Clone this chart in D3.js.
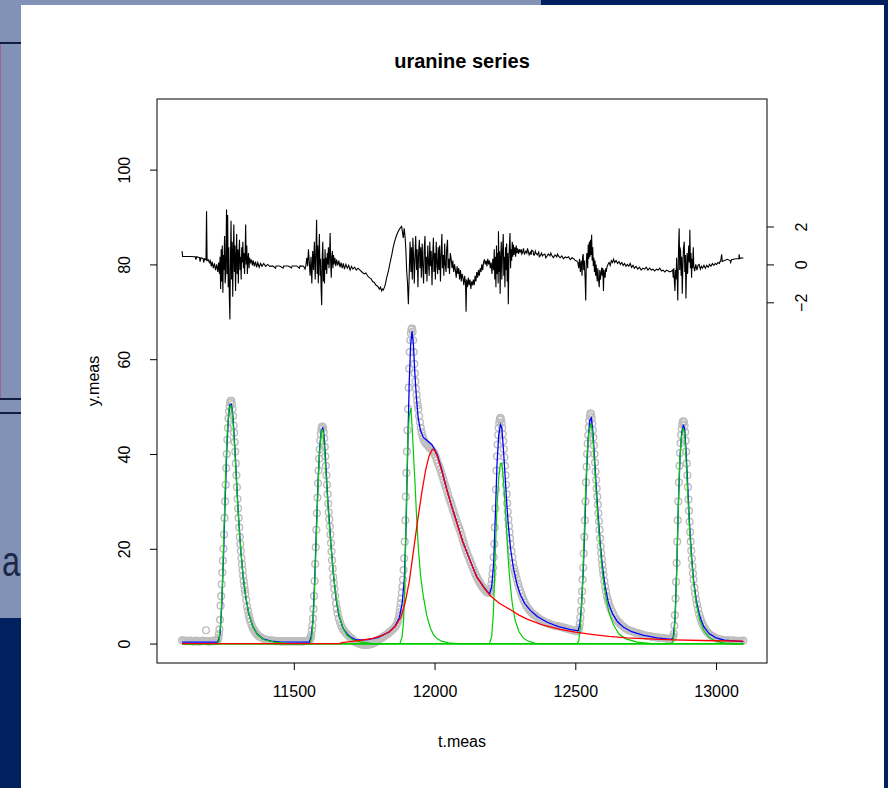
<!DOCTYPE html>
<html>
<head>
<meta charset="utf-8">
<script src="https://cdn.jsdelivr.net/npm/d3@7"></script>
<style>
body { margin: 0; background: #fff; }
text { font-family: "Liberation Sans", Arial, Helvetica, sans-serif; }
</style>
</head>
<body>
<div id="chart"></div>
<script>
// ---- data (t.meas, value) ----
var xTicks = [11500, 12000, 12500, 13000];
var yTicks = [0, 20, 40, 60, 80, 100];
var resTicks = [-2, 0, 2];

// measured series (grey circles)
var measured = [
[11103,0.7],[11108,0.6],[11113,0.5],[11118,0.6],[11123,0.5],[11128,0.5],[11133,0.6],[11138,0.5],[11143,0.4],[11148,0.5],
[11153,0.6],[11158,0.5],[11163,0.4],[11168,0.5],[11173,0.5],[11178,0.6],[11183,0.5],[11188,2.8],[11193,0.5],[11198,0.4],
[11203,0.5],[11208,0.5],[11213,0.6],[11218,0.5],[11223,0.6],[11227,0.7],
[11230,0.8],[11232,1.2],[11234,2],[11236,3],[11238,5],[11240,8],[11242,10],[11244,12.5],[11246,15],[11248,17.5],
[11250,20],[11252,23],[11254,26.5],[11256,30],[11258,33.5],[11260,37],[11262,40],[11264,43],[11266,45.5],[11268,47.5],
[11270,49],[11272,50],[11274,50.8],[11276,51.2],[11278,51.2],[11280,50.5],[11282,49.5],[11284,48],[11286,46],[11288,44.5],
[11290,42.5],[11292,40.5],[11294,38],[11296,35.5],[11298,33],[11300,30.5],[11302,28.5],[11304,26.5],[11306,24.5],[11308,22.5],
[11310,21],[11312,19.5],[11314,18],[11316,16.7],[11318,15.5],[11320,14.3],[11322,13.2],[11324,12.2],[11326,11.3],[11328,10.5],
[11331,9.2],[11334,7.8],[11337,6.9],[11340,6],[11343,5.3],[11346,4.6],[11350,3.9],[11354,3.3],[11358,2.9],[11362,2.5],
[11366,2.2],[11370,1.9],[11375,1.6],[11380,1.4],[11386,1.2],[11392,1.0],[11398,0.9],[11404,0.8],
[11410,0.7],[11416,0.7],[11422,0.6],[11428,0.6],[11434,0.5],[11440,0.5],[11446,0.5],[11452,0.5],[11458,0.4],[11464,0.5],
[11470,0.5],[11476,0.4],[11482,0.5],[11488,0.5],[11494,0.4],[11500,0.5],[11506,0.5],[11512,0.4],[11518,0.5],[11524,0.5],
[11530,0.4],[11536,0.5],[11542,0.5],[11548,0.6],[11552,0.7],
[11556,0.8],[11558,0.9],[11560,1.3],[11562,1.8],[11564,2.8],[11566,3.8],[11568,5.3],[11570,7.3],[11572,10],[11574,13.2],
[11576,16.8],[11578,20.3],[11580,24],[11582,27.5],[11584,30.8],[11586,33.8],[11588,36.5],[11590,39],[11592,41],[11594,42.8],
[11596,44.2],[11598,45.2],[11600,45.7],[11602,45.8],[11604,45.5],[11606,44.6],[11608,43.3],[11610,41.5],[11612,39.5],[11614,37.5],
[11616,35.5],[11618,33.5],[11620,31.5],[11622,29.5],[11624,27.7],[11626,26.2],[11628,24.7],[11630,23],[11632,21.2],[11634,19.4],
[11636,17.6],[11638,15.8],[11640,14],[11642,12.7],[11644,11.5],[11647,10],[11650,8.5],[11653,7.3],[11656,6.3],[11660,5.3],
[11664,4.5],[11668,3.8],[11672,3.3],[11676,2.9],[11680,2.6],[11685,2.2],[11690,1.9],[11695,1.6],[11700,1.3],
[11705,1.1],[11710,0.8],[11715,0.5],[11720,0.3],[11725,0.2],[11730,0.0],[11735,-0.1],[11740,-0.2],[11745,-0.2],[11750,-0.3],
[11755,-0.3],[11760,-0.3],[11765,-0.2],[11770,-0.2],[11775,-0.1],[11780,0.0],[11785,0.1],[11790,0.3],[11795,0.5],[11800,0.7],
[11805,0.9],[11810,1.1],[11815,1.3],[11820,1.5],[11825,1.7],[11830,1.9],[11835,2.1],[11840,2.4],[11845,2.6],[11850,2.9],
[11855,3.2],[11860,3.5],[11864,3.9],[11868,4.4],[11871,5.0],[11874,5.8],[11876,6.6],
[11878,7.5],[11880,8.5],[11882,9.5],[11884,10.8],[11886,12],[11888,13.5],[11890,15.5],[11892,18],[11894,21.5],[11896,26],
[11898,31],[11900,36],[11902,40.5],[11904,45],[11906,49.5],[11908,54],[11910,58],[11912,61.5],[11914,64],[11916,65.5],
[11918,66.3],[11920,66.5],[11922,65.8],[11924,64],[11926,61.5],[11928,59],[11930,57],[11932,55.3],[11934,53.8],[11936,52.5],
[11938,51.3],[11940,50.3],[11942,49.5],[11945,48],[11948,46.7],[11951,45.5],[11954,44.6],[11957,43.8],[11960,43.2],[11964,42.7],
[11968,42.3],[11972,42],[11976,41.8],[11980,41.5],[11984,41.2],[11988,41],[11992,40.7],[11996,40.4],[12000,40],[12004,39.4],
[12008,38.7],[12012,38],[12016,37.5],[12020,36.8],[12024,36],[12028,35.3],[12032,34.5],[12036,33.7],[12040,33],[12044,32.2],
[12048,31.4],[12052,30.6],[12056,30],[12060,29.3],[12064,28.5],[12068,27.8],[12072,27],[12076,26.3],[12080,25.5],[12084,24.9],
[12088,24.3],[12092,23.6],[12096,22.8],[12100,22],[12104,21.2],[12108,20.4],[12112,19.7],[12116,19],[12120,18.4],[12124,17.8],
[12128,17.2],[12132,16.6],[12136,16.0],[12140,15.4],[12144,14.8],[12148,14.3],[12152,13.8],[12156,13.3],[12160,12.9],[12164,12.5],
[12168,12.1],[12172,11.8],[12176,11.5],[12180,11.2],[12184,11.0],[12188,10.8],[12192,10.7],[12196,10.8],
[12198,11],[12200,11.6],[12202,12.5],[12204,13.5],[12206,14.7],[12208,16],[12210,18.2],[12212,21],[12214,24.5],[12216,28.5],
[12218,32.5],[12220,36.5],[12222,39.5],[12224,42],[12226,44],[12228,45.5],[12230,46.6],[12232,47.3],[12234,47.6],[12236,47.3],
[12238,46.6],[12240,45.5],[12242,44.2],[12244,42.7],[12246,41],[12248,39.3],[12250,37.5],[12252,35.5],[12254,33.5],[12256,31.5],
[12258,29.6],[12260,27.8],[12262,26.2],[12264,24.8],[12266,23.5],[12268,22.2],[12270,21],[12273,19.5],[12276,18.2],[12279,17],
[12282,16],[12285,15.2],[12288,14.5],[12292,13.6],[12296,12.7],[12300,11.9],[12304,11.2],[12308,10.5],[12312,9.8],[12316,9.2],
[12320,8.7],[12325,8.1],[12330,7.6],[12335,7.2],[12340,6.8],[12345,6.5],[12350,6.2],[12355,6.0],[12360,5.8],[12366,5.5],
[12372,5.2],[12378,5.0],[12384,4.8],[12390,4.6],[12396,4.4],[12402,4.3],[12408,4.1],[12414,4.0],[12420,3.9],[12426,3.8],
[12432,3.7],[12438,3.7],[12444,3.6],[12450,3.5],[12456,3.4],[12462,3.3],[12468,3.2],[12474,3.1],[12480,3.0],[12486,2.9],
[12492,2.8],[12498,2.7],[12504,2.6],[12510,2.7],
[12512,2.9],[12514,3.3],[12516,4.2],[12518,5.5],[12520,7],[12522,9],[12524,11],[12526,13.5],[12528,16],[12530,19],
[12532,22.5],[12534,26],[12536,30],[12538,34],[12540,37.3],[12542,40],[12544,42.2],[12546,44],[12548,45.6],[12550,47],
[12552,48],[12554,48.6],[12556,48.4],[12558,47.6],[12560,46.4],[12562,45],[12564,43.5],[12566,41.8],[12568,40],[12570,38.2],
[12572,36.3],[12574,34.5],[12576,32.7],[12578,31],[12580,29.3],[12582,27.5],[12584,25.8],[12586,24],[12588,22.2],[12590,20.5],
[12592,19.1],[12594,17.8],[12596,16.6],[12598,15.5],[12600,14.5],[12603,13.2],[12606,12],[12609,11],[12612,10],[12615,9.3],
[12618,8.7],[12622,7.9],[12626,7.3],[12630,6.8],[12635,6.2],[12640,5.6],[12645,5.1],[12650,4.7],[12655,4.4],[12660,4.1],
[12666,3.8],[12672,3.5],[12678,3.2],[12684,3.0],[12690,2.8],[12696,2.7],[12702,2.6],[12708,2.4],[12714,2.3],[12720,2.2],
[12726,2.1],[12732,2.0],[12738,1.9],[12744,1.8],[12750,1.7],[12756,1.6],[12762,1.6],[12768,1.5],[12774,1.4],[12780,1.4],
[12786,1.3],[12792,1.3],[12798,1.2],[12804,1.2],[12810,1.2],[12816,1.1],[12822,1.1],[12828,1.0],[12834,1.0],[12840,1.0],
[12845,1.2],
[12848,1.5],[12850,2.1],[12852,3.8],[12854,6],[12856,9.5],[12858,13],[12860,17],[12862,21.5],[12864,26],[12866,30],
[12868,34],[12870,37.5],[12872,40.2],[12874,42.3],[12876,44],[12878,45.3],[12880,46.2],[12882,46.8],[12884,46.9],[12886,46.7],
[12888,46],[12890,44.6],[12892,42.8],[12894,40.5],[12896,38],[12898,35.5],[12900,33],[12902,30.4],[12904,28],[12906,25.7],
[12908,23.5],[12910,21.5],[12912,19.6],[12914,17.9],[12916,16.3],[12918,14.8],[12920,13.5],[12923,11.8],[12926,10.5],[12929,9.3],
[12932,8.3],[12936,7.2],[12940,6.2],[12944,5.4],[12948,4.7],[12952,4.1],[12956,3.6],[12961,3.1],[12966,2.6],[12971,2.3],
[12976,2.0],[12982,1.7],[12988,1.5],[12994,1.3],[13000,1.1],[13006,1.0],[13012,0.9],[13018,0.85],[13024,0.8],[13030,0.75],
[13036,0.7],[13042,0.7],[13048,0.65],[13054,0.6],[13060,0.6],[13066,0.6],[13072,0.55],[13078,0.5],[13084,0.55],[13090,0.5],
[13097,0.6]
];

// total fit (blue)
var fitTotal = [
[11103,0.3],[11230,0.3],[11238,2],[11244,8],[11250,18],[11256,30],[11262,41],[11268,48],[11273,50.4],[11278,50.5],
[11283,48.5],[11288,44],[11294,37.5],[11300,30.5],[11306,24.5],[11312,19.5],[11320,14],[11330,9.5],[11340,6.3],[11355,3.5],
[11370,2],[11390,1],[11420,0.5],[11450,0.35],[11555,0.3],
[11562,1.5],[11568,5],[11574,13],[11580,24],[11586,34],[11592,41.5],[11598,45],[11603,45.5],[11608,43.5],[11614,37.5],
[11620,31],[11626,26],[11632,21],[11640,15],[11650,9.5],[11660,6],[11675,3.2],[11690,2],[11700,1.4],
[11720,0.8],[11760,0.8],[11800,1.3],[11840,2.5],[11860,3.7],[11875,5.5],[11885,8.5],[11893,14],[11899,25],[11905,42],
[11910,55],[11915,63],[11920,65.9],[11925,63],[11930,57],[11936,51.5],[11942,47.5],[11950,45],[11960,43.5],[11970,43],
[11980,42.5],[11990,42],[12000,41],[12010,39.8],[12025,36.8],[12043,32.7],[12060,29.2],[12079,25.6],[12100,21.6],[12126,17.6],
[12150,14.1],[12175,11.9],[12195,10.4],
[12203,12],[12210,17],[12216,27],[12222,38],[12228,44],[12234,46.2],[12239,45.5],[12244,41.5],[12250,36],[12256,30],
[12262,25],[12270,20],[12280,16],[12292,12.7],[12305,10.3],[12320,8.5],[12340,7],[12365,5.7],[12400,4.5],[12440,3.6],
[12480,3],[12510,2.7],
[12516,4],[12522,8],[12528,15],[12534,25],[12540,36],[12546,43.5],[12552,47.2],[12557,47.6],[12562,45],[12568,39.5],
[12574,33.5],[12580,28],[12588,21.5],[12596,16.5],[12606,12],[12618,8.5],[12632,6.3],[12650,4.6],[12670,3.5],[12700,2.5],
[12740,1.8],[12790,1.2],[12840,0.9],
[12848,1.2],[12854,5],[12860,15],[12866,29],[12872,39.5],[12878,44.5],[12884,46.2],[12889,45],[12894,40],[12900,32.5],
[12906,25],[12913,18.5],[12920,13.5],[12930,9],[12942,5.8],[12956,3.6],[12975,2.1],[13000,1.2],[13030,0.7],[13097,0.4]
];

// broad slow component (red)
var slowComp = [
[11103,0],[11664,0],[11670,0.2],[11700,0.4],[11740,0.7],[11780,1.1],[11810,1.6],[11840,2.5],[11860,3.6],[11880,5.5],
[11895,8.5],[11910,13],[11925,19.5],[11940,26],[11955,32],[11968,36.5],[11980,39.5],[11992,41],[12000,40.8],[12010,39.5],
[12025,36.5],[12043,32.5],[12060,29],[12079,25.5],[12100,21.5],[12126,17.5],[12150,14],[12175,11.8],[12200,10],[12230,8.5],
[12268,7.2],[12300,6],[12327,5.2],[12380,4],[12446,3],[12500,2.4],[12564,1.9],[12620,1.5],[12683,1.2],[12760,1],
[12848,0.8],[12950,0.65],[13097,0.5]
];

// narrow peak components (green)
var peak1 = [[11103,0],[11228,0],[11234,0.5],[11240,4],[11246,12],[11252,24],[11258,36],[11264,45],[11270,49.5],[11276,50.3],
[11281,49],[11286,45],[11292,39],[11298,32],[11304,26],[11310,21],[11318,15.5],[11328,10.5],[11340,6.3],[11355,3.5],
[11372,1.8],[11395,0.8],[11430,0.3],[11480,0],[13097,0]];
var peak2 = [[11103,0],[11558,0],[11564,1.5],[11570,6],[11576,15],[11582,26],[11588,36],[11594,42.5],[11600,45.3],[11605,44.5],
[11610,40],[11616,34],[11622,28.5],[11628,23.5],[11635,18.5],[11643,13.5],[11652,9],[11662,5.8],[11675,3.2],[11690,1.7],
[11710,0.8],[11740,0.3],[11780,0],[13097,0]];
var peak3 = [[11103,0],[11877,0],[11885,1.5],[11890,5],[11895,14],[11900,30],[11905,43],[11910,48],[11916,49.7],[11921,45],
[11926,39],[11930,34.5],[11936,27],[11942,20.5],[11950,14.5],[11960,10],[11972,6],[11985,3.3],[11996,1.9],[12010,1],
[12025,0.5],[12050,0.15],[12080,0],[13097,0]];
var peak4 = [[11103,0],[12195,0],[12203,1.5],[12209,6.5],[12214,16],[12218,23],[12222,29],[12228,35],[12234,38],[12239,38.1],
[12244,35],[12250,30],[12256,24],[12262,17.5],[12268,13],[12276,8.5],[12286,5],[12300,2.5],[12315,1.2],[12330,0.6],
[12360,0],[13097,0]];
var peak5 = [[11103,0],[12505,0],[12512,0.5],[12518,3.5],[12524,10],[12530,20],[12536,31],[12542,40],[12548,44.5],[12554,46.2],
[12559,45.5],[12564,42],[12570,36],[12576,30],[12582,25],[12590,19],[12598,14],[12608,10],[12620,6.5],[12635,4],
[12655,2],[12680,1],[12720,0.3],[12770,0],[13097,0]];
var peak6 = [[11103,0],[12840,0],[12846,0.3],[12851,2],[12856,7],[12861,17],[12866,29],[12871,38.5],[12877,43.5],[12883,45.5],
[12888,44.5],[12893,39.5],[12899,32],[12905,25],[12912,18.5],[12920,13],[12930,8.3],[12942,5],[12956,2.8],[12975,1.3],
[13000,0.5],[13030,0.1],[13060,0],[13097,0]];

// residuals (right axis units), drawn as 80 + 4 * r
var residuals = [
[11103,0.7],[11105,0.42],[11130,0.42],[11150,0.4],[11152,0.25],[11155,0.4],[11165,0.35],[11167,0.15],[11170,0.35],[11178,0.3],
[11180,0.1],[11183,0.3],[11188,0.25],[11190,2.8],[11192,0.2],[11196,0.25],[11200,0.1],[11203,0.2],[11207,-0.1],[11210,0.15],
[11214,-0.2],[11218,0.05],[11222,-0.3],[11226,0.0],[11230,-0.4],[11233,0.1],[11236,-0.5],
[11238,0.4],[11240,-1.3],[11242,0.8],[11244,-0.9],[11246,1.0],[11248,-1.5],[11250,0.5],[11252,-0.3],[11254,1.5],[11256,-1.0],
[11258,-0.6],[11261,2.9],[11263,-0.5],[11265,2.6],[11267,-1.2],[11269,0.9],[11271,-1.8],[11273,-2.9],[11275,0.3],[11277,2.3],
[11279,-0.8],[11281,1.2],[11283,-1.7],[11285,0.6],[11287,2.1],[11289,-0.4],[11291,1.0],[11293,-1.4],[11295,0.2],[11297,1.6],
[11299,-0.5],[11301,0.8],[11303,-1.0],[11305,0.5],[11307,1.3],[11309,-0.3],[11311,0.4],[11313,-0.8],[11315,0.9],[11317,0.1],
[11319,1.2],[11321,-0.2],[11323,0.6],[11325,-0.5],[11327,0.4],[11329,2.1],[11331,0.0],[11333,1.0],[11335,-0.5],[11337,0.3],
[11339,0.6],[11341,-0.2],[11343,0.35],
[11347,0.1],[11350,0.25],[11353,-0.05],[11356,0.2],[11360,-0.1],[11364,0.15],[11368,-0.15],[11372,0.1],[11377,-0.15],[11382,0.05],
[11387,-0.1],[11393,0.05],[11400,-0.1],[11407,0.0],[11415,-0.1],
[11425,-0.08],[11435,-0.2],[11437,-0.08],[11450,-0.08],[11462,-0.2],[11464,-0.08],[11480,-0.08],[11492,-0.18],[11494,-0.08],[11510,-0.08],
[11520,-0.2],[11522,-0.08],[11535,-0.1],[11540,-0.25],[11543,-0.05],
[11546,0.35],[11549,-0.1],[11552,0.8],[11555,0.1],[11558,-0.6],[11561,0.4],[11564,-1.0],[11567,0.7],[11570,-0.3],[11573,1.2],
[11576,-0.8],[11579,0.9],[11581,2.35],[11583,-0.5],[11585,1.0],[11587,-1.0],[11589,0.6],[11591,1.6],[11593,-0.6],[11595,0.3],
[11597,-1.3],[11599,-2.15],[11601,0.4],[11603,1.2],[11605,-0.9],[11607,0.3],[11609,-1.0],[11611,0.8],[11613,-0.3],[11615,0.35],
[11617,-0.5],[11619,0.6],[11621,0.0],[11623,0.9],[11625,-0.2],[11627,0.5],[11629,1.65],[11631,0.1],[11633,-0.7],[11635,0.4],
[11637,0.7],[11639,-0.2],[11641,0.5],[11643,0.0],[11646,0.35],[11649,-0.1],[11652,0.25],
[11656,-0.05],[11660,0.2],[11664,-0.15],[11668,0.1],[11672,-0.2],[11676,0.05],[11680,-0.25],[11685,0.0],[11690,-0.2],[11695,-0.05],
[11700,-0.3],[11705,-0.1],[11710,-0.25],[11716,-0.15],[11722,-0.3],[11728,-0.2],[11735,-0.3],
[11742,-0.4],[11750,-0.5],[11756,-0.45],[11762,-0.6],[11768,-0.7],[11774,-0.75],[11780,-0.9],[11786,-0.95],[11792,-1.1],[11798,-1.15],
[11804,-1.3],[11808,-1.2],[11812,-1.4],[11815,-1.3],[11818,-1.35],
[11822,-1.2],[11826,-1.0],[11830,-0.7],[11836,-0.35],[11842,0.1],[11848,0.5],[11853,0.9],[11858,1.2],[11864,1.5],[11871,1.75],
[11877,1.9],[11883,2.0],[11886,1.7],[11889,1.4],[11892,1.9],[11895,1.5],[11898,0.8],[11901,-0.35],[11904,-1.0],[11907,-2.1],
[11910,-0.5],[11913,1.2],
[11916,-0.4],[11918,0.9],[11921,-0.8],[11923,1.4],[11926,0.2],[11928,-1.0],[11931,0.6],[11933,1.5],[11936,-0.3],[11938,0.8],
[11941,-1.2],[11943,0.5],[11946,1.3],[11948,-0.2],[11951,0.9],[11953,-0.7],[11956,1.1],[11958,0.0],[11961,-1.0],[11963,0.7],
[11966,1.5],[11968,-0.5],[11971,0.4],[11973,-0.9],[11976,1.0],[11978,0.2],[11981,-0.6],[11983,1.2],[11986,-0.1],[11988,0.7],
[11991,-1.1],[11993,0.3],[11996,1.4],[11998,-0.4],[12001,0.6],[12003,-0.8],[12006,1.2],[12008,0.1],[12011,-0.5],[12013,0.9],
[12016,-0.3],[12018,1.0],[12021,-0.9],[12023,0.4],[12026,1.6],[12028,-0.2],[12031,0.5],[12033,-0.6],[12036,1.1],[12038,0.0],
[12041,-0.4],[12043,0.8],[12046,1.3],[12048,-0.2],[12051,0.3],[12053,-0.5],[12056,0.6],
[12059,0.3],[12062,-0.2],[12065,0.2],[12068,-0.4],[12071,0.0],[12074,-0.3],[12077,-0.7],[12080,-0.1],[12083,-0.5],[12086,-0.2],
[12089,-0.8],[12092,-0.3],[12095,-0.9],[12098,-0.5],[12101,-0.7],[12104,-1.1],[12107,-0.6],[12110,-1.0],[12112,-2.5],[12114,-0.8],
[12117,-1.2],[12120,-0.7],[12123,-1.1],[12126,-0.8],[12129,-1.3],[12132,-0.9],[12135,-1.1],
[12138,-0.8],[12141,-1.1],[12144,-0.6],[12147,-0.9],[12150,-0.4],[12153,-0.7],[12156,-0.3],[12159,-0.6],[12162,-0.2],[12165,-0.4],
[12168,0.0],[12171,-0.3],[12174,0.1],[12177,0.27],[12180,0.0],[12183,0.2],[12186,-0.1],[12189,0.3],[12192,0.0],[12195,0.2],
[12198,-0.2],[12201,0.1],[12204,-0.5],[12207,0.3],
[12210,-0.3],[12212,0.8],[12214,-0.8],[12216,0.4],[12218,-1.2],[12220,1.0],[12222,-0.5],[12224,0.6],[12226,-1.0],[12227,1.75],
[12229,-0.4],[12231,0.7],[12233,-1.55],[12235,0.3],[12237,1.2],[12239,-0.8],[12241,0.5],[12244,1.6],[12246,-0.6],[12248,0.4],
[12250,-1.2],[12252,0.9],[12254,-0.3],[12256,1.1],[12258,-0.9],[12260,0.6],[12262,-2.1],[12264,0.2],[12266,1.0],[12268,1.65],
[12270,-0.2],[12272,0.8],[12274,0.2],[12276,1.2],[12278,0.4],[12280,1.05],[12282,0.5],[12285,0.9],[12288,0.4],[12290,1.0],
[12292,0.6],[12295,0.85],[12298,0.55],[12301,0.8],[12304,0.65],
[12308,0.8],[12310,0.55],[12312,0.6],[12316,0.85],[12318,0.6],[12320,0.55],[12324,0.7],[12328,0.6],[12330,0.85],[12332,0.75],
[12336,0.5],[12340,0.65],[12343,0.5],[12345,0.75],[12350,0.7],[12352,0.5],[12355,0.5],[12358,0.7],[12360,0.6],[12365,0.5],
[12370,0.65],[12372,0.4],[12375,0.45],[12380,0.6],[12383,0.45],[12386,0.5],[12392,0.55],[12395,0.35],[12398,0.4],[12404,0.55],
[12410,0.45],[12413,0.6],[12416,0.5],[12422,0.35],[12428,0.5],[12434,0.4],[12437,0.55],[12440,0.45],[12446,0.35],[12452,0.45],
[12458,0.3],[12464,0.4],[12470,0.35],[12476,0.4],[12482,0.25],[12488,0.35],[12494,0.3],[12500,0.2],[12505,0.18],
[12509,0.1],[12512,-0.2],[12515,0.3],[12518,-0.4],[12521,0.2],[12524,-0.6],[12526,0.4],[12528,0.55],[12530,-0.3],[12532,0.2],
[12535,-0.8],[12537,-1.9],[12539,0.1],[12541,0.6],[12544,-0.2],[12546,1.05],[12548,0.3],[12550,1.2],[12552,0.4],[12554,1.3],
[12556,0.5],[12558,1.57],[12560,0.2],[12562,0.9],[12564,-0.1],[12566,0.35],[12568,-0.4],[12570,0.2],[12572,-0.6],[12574,0.0],
[12576,-0.5],[12578,-0.9],[12580,-0.2],[12582,-0.7],[12585,-1.2],[12587,-0.3],[12589,-0.8],[12592,-0.4],[12594,-0.17],[12596,-0.6],
[12598,-0.2],[12600,-1.4],[12602,-0.3],[12604,-0.6],[12606,-0.7],[12608,-0.2],[12610,-0.4],[12612,-0.17],
[12616,0.0],[12620,0.1],[12624,-0.05],[12628,0.2],[12632,0.1],[12636,0.27],[12640,0.1],[12645,0.2],[12650,0.05],[12655,0.15],
[12660,0.0],[12665,0.1],[12670,-0.05],[12675,0.05],[12680,-0.1],[12685,0.0],[12690,-0.1],[12695,0.05],[12700,-0.15],[12705,-0.05],
[12710,-0.2],[12716,-0.1],[12722,-0.25],[12728,-0.15],[12734,-0.3],[12740,-0.2],[12746,-0.25],[12752,-0.15],[12758,-0.3],[12764,-0.2],
[12770,-0.3],[12776,-0.25],[12782,-0.35],[12788,-0.25],[12794,-0.3],[12800,-0.2],[12806,-0.35],[12812,-0.3],[12818,-0.4],[12824,-0.3],
[12830,-0.35],[12836,-0.4],[12842,-0.35],
[12846,-0.3],[12848,-0.7],[12850,-0.2],[12852,-0.9],[12854,-1.4],[12856,-0.3],[12858,-0.8],[12860,0.35],[12862,-0.5],[12864,-1.9],
[12866,0.2],[12867,1.0],[12869,1.9],[12871,-0.3],[12872,0.9],[12874,0.7],[12876,-0.6],[12878,0.4],[12880,-1.55],[12882,-0.2],
[12884,0.8],[12887,1.2],[12889,-0.4],[12891,0.5],[12893,-1.8],[12895,-0.2],[12897,0.6],[12899,-0.5],[12901,0.35],[12903,1.0],
[12905,0.1],[12907,1.83],[12909,-0.2],[12911,0.6],[12913,-0.7],[12915,0.3],[12917,-0.2],[12919,0.9],[12921,-0.1],
[12924,-0.35],[12928,0.0],[12932,-0.3],[12936,-0.05],[12940,0.0],[12944,-0.25],[12948,-0.1],[12952,-0.2],[12957,-0.05],[12962,-0.2],
[12967,-0.05],[12972,-0.15],[12977,0.0],[12982,-0.1],[12987,0.05],[12992,-0.05],[12997,0.05],[13002,0.0],[13007,0.1],[13012,0.05],
[13014,0.15],[13016,0.15],[13020,0.53],[13022,0.15],[13030,0.2],[13040,0.27],[13050,0.2],[13052,0.1],[13055,0.25],[13070,0.3],
[13081,0.3],[13082,0.53],[13084,0.3],[13090,0.35],[13097,0.32]
];

var resOffset = 80;
var resFactor = 4;

(function () {
    var W = 888, H = 788;
    var box = { left: 157, right: 767, top: 99, bottom: 663 };

    var svg = d3.select("#chart").append("svg")
        .attr("width", W)
        .attr("height", H);

    // slide background behind the white panel
    svg.append("rect").attr("width", W).attr("height", H).attr("fill", "#8292b6");
    svg.append("rect").attr("x", 541).attr("y", 0).attr("width", W - 541).attr("height", 6).attr("fill", "#002060");
    svg.append("rect").attr("x", 0).attr("y", 618).attr("width", 22).attr("height", H - 618).attr("fill", "#002060");
    svg.append("rect").attr("x", 884).attr("y", 0).attr("width", 4).attr("height", H).attr("fill", "#002060");
    svg.append("rect").attr("x", 0).attr("y", 42).attr("width", 22).attr("height", 2).attr("fill", "#101c40");
    svg.append("rect").attr("x", 0).attr("y", 44).attr("width", 1).attr("height", 354).attr("fill", "#9a6690");
    svg.append("rect").attr("x", 0).attr("y", 398).attr("width", 22).attr("height", 2).attr("fill", "#101c40");
    svg.append("rect").attr("x", 0).attr("y", 412).attr("width", 22).attr("height", 2).attr("fill", "#101c40");
    svg.append("text")
        .attr("transform", "translate(2,576) scale(0.9,1.2)")
        .attr("font-size", "36px")
        .attr("fill", "#1c2848")
        .text("a");
    svg.append("rect").attr("x", 21).attr("y", 5).attr("width", 863).attr("height", H - 5).attr("fill", "#ffffff");

    var x = d3.scaleLinear().domain([11014, 13181]).range([box.left, box.right]);
    var y = d3.scaleLinear().domain([-4.1, 114.9]).range([box.bottom, box.top]);
    var yRes = d3.scaleLinear()
        .domain([-2, 2])
        .range([y(resOffset - 2 * resFactor), y(resOffset + 2 * resFactor)]);

    var line = d3.line()
        .x(function (d) { return x(d[0]); })
        .y(function (d) { return y(d[1]); });
    var resLine = d3.line()
        .x(function (d) { return x(d[0]); })
        .y(function (d) { return yRes(d[1]); });

    var plot = svg.append("g").attr("class", "plot");

    // measured points
    plot.selectAll("circle.meas").data(measured).enter()
        .append("circle")
        .attr("class", "meas")
        .attr("cx", function (d) { return x(d[0]); })
        .attr("cy", function (d) { return y(d[1]); })
        .attr("r", 3.4)
        .attr("fill", "none")
        .attr("stroke", "#bebebe")
        .attr("stroke-width", 1.4);

    plot.append("path").datum(fitTotal)
        .attr("fill", "none").attr("stroke", "#0000ff").attr("stroke-width", 1.3)
        .attr("d", line);

    [peak1, peak2, peak3, peak4, peak5, peak6].forEach(function (p) {
        plot.append("path").datum(p)
            .attr("fill", "none").attr("stroke", "#00cd00").attr("stroke-width", 1.2)
            .attr("d", line);
    });

    plot.append("path").datum(slowComp)
        .attr("fill", "none").attr("stroke", "#ff0000").attr("stroke-width", 1.3)
        .attr("d", line);

    plot.append("path").datum(residuals)
        .attr("fill", "none").attr("stroke", "#000").attr("stroke-width", 1.1)
        .attr("d", resLine);

    // frame
    svg.append("rect")
        .attr("x", box.left).attr("y", box.top)
        .attr("width", box.right - box.left).attr("height", box.bottom - box.top)
        .attr("fill", "none").attr("stroke", "#000").attr("stroke-width", 1);

    // bottom axis
    var xAxis = svg.append("g")
        .attr("transform", "translate(0," + box.bottom + ")")
        .call(d3.axisBottom(x).tickValues(xTicks).tickSize(7).tickPadding(16).tickFormat(d3.format("d")));
    xAxis.select(".domain").remove();
    xAxis.selectAll("text").attr("font-size", "16px").attr("font-family", null);

    // left axis, labels rotated like R
    var yAxis = svg.append("g")
        .attr("transform", "translate(" + box.left + ",0)")
        .call(d3.axisLeft(y).tickValues(yTicks).tickSize(7).tickFormat(d3.format("d")));
    yAxis.select(".domain").remove();
    yAxis.selectAll("text")
        .attr("x", 0).attr("y", 0).attr("dy", 0)
        .attr("text-anchor", "middle")
        .attr("font-size", "16px").attr("font-family", null)
        .attr("transform", "translate(-27,0) rotate(-90)");

    // right axis for residuals
    var rAxis = svg.append("g")
        .attr("transform", "translate(" + box.right + ",0)")
        .call(d3.axisRight(yRes).tickValues(resTicks).tickSize(7).tickFormat(d3.format("d")));
    rAxis.select(".domain").remove();
    rAxis.selectAll("text")
        .attr("x", 0).attr("y", 0).attr("dy", 0)
        .attr("text-anchor", "middle")
        .attr("font-size", "16px").attr("font-family", null)
        .attr("transform", "translate(40,0) rotate(-90)");

    // titles
    svg.append("text")
        .attr("x", (box.left + box.right) / 2).attr("y", 68)
        .attr("text-anchor", "middle")
        .attr("font-size", "20px").attr("font-weight", "bold")
        .text("uranine series");
    svg.append("text")
        .attr("x", (box.left + box.right) / 2).attr("y", 747)
        .attr("text-anchor", "middle")
        .attr("font-size", "16px")
        .text("t.meas");
    svg.append("text")
        .attr("transform", "translate(99," + ((box.top + box.bottom) / 2) + ") rotate(-90)")
        .attr("text-anchor", "middle")
        .attr("font-size", "16px")
        .text("y.meas");
})();
</script>
</body>
</html>
